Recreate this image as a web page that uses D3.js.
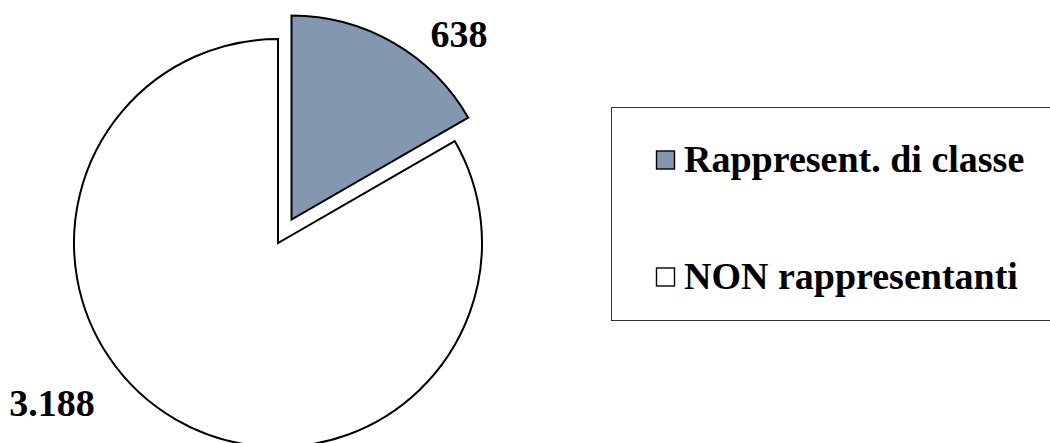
<!DOCTYPE html>
<html>
<head>
<meta charset="utf-8">
<script src="https://cdn.jsdelivr.net/npm/d3@7"></script>
<style>
  body { margin: 0; background: #fff; }
  svg { display: block; }
  text { font-family: 'Liberation Serif', 'DejaVu Serif', serif; font-weight: bold; }
</style>
</head>
<body>
<svg id="chart"></svg>
<script>
// data
const categories = ["Rappresent. di classe", "NON rappresentanti"];
const values = [638, 3188];
const valueLabels = ["638", "3.188"];
const colors = ["#8497b0", "#ffffff"];

const width = 1050, height = 443;
const cx = 278, cy = 243, radius = 204;
const explode = 27; // first slice pulled out
const fontSize = 38;

const svg = d3.select("#chart")
    .attr("width", width)
    .attr("height", height)
    .attr("viewBox", [0, 0, width, height]);

const pie = d3.pie().sort(null).value(d => d)(values);
const arc = d3.arc().innerRadius(0).outerRadius(radius);

const g = svg.append("g").attr("transform", `translate(${cx},${cy})`);

function shift(d, i) {
  if (i !== 0) return [0, 0];
  const a = (d.startAngle + d.endAngle) / 2;
  return [Math.sin(a) * explode, -Math.cos(a) * explode];
}

g.selectAll("path")
  .data(pie)
  .join("path")
    .attr("d", arc)
    .attr("transform", (d, i) => `translate(${shift(d, i)})`)
    .attr("fill", (d, i) => colors[i])
    .attr("stroke", "#000")
    .attr("stroke-width", 2)
    .attr("stroke-linejoin", "miter");

// value labels outside the slices (nudged like the original best-fit layout)
const nudge = [0.21, 0.43];
const labelR = [250, 277];
g.selectAll("text.val")
  .data(pie)
  .join("text")
    .attr("class", "val")
    .attr("x", (d, i) => {
      const a = (d.startAngle + d.endAngle) / 2 + nudge[i];
      return shift(d, i)[0] + Math.sin(a) * labelR[i];
    })
    .attr("y", (d, i) => {
      const a = (d.startAngle + d.endAngle) / 2 + nudge[i];
      return shift(d, i)[1] - Math.cos(a) * labelR[i];
    })
    .attr("dy", "0.33em")
    .attr("text-anchor", "middle")
    .attr("font-size", fontSize)
    .text((d, i) => valueLabels[i]);

// legend
const legend = svg.append("g");
legend.append("rect")
    .attr("x", 611.5).attr("y", 107.5)
    .attr("width", 450).attr("height", 213)
    .attr("fill", "#fff")
    .attr("stroke", "#333").attr("stroke-width", 1);

const ly = d3.scalePoint().domain(categories).range([160, 277]);
const items = legend.selectAll("g.item")
  .data(categories)
  .join("g")
    .attr("class", "item")
    .attr("transform", d => `translate(656,${ly(d)})`);

items.append("rect")
    .attr("x", 0.5).attr("y", -9)
    .attr("width", 18).attr("height", 18)
    .attr("fill", (d, i) => colors[i])
    .attr("stroke", "#000").attr("stroke-width", 1.4);

items.append("text")
    .attr("x", 28)
    .attr("y", 12)
    .attr("font-size", fontSize)
    .text(d => d);
</script>
</body>
</html>
